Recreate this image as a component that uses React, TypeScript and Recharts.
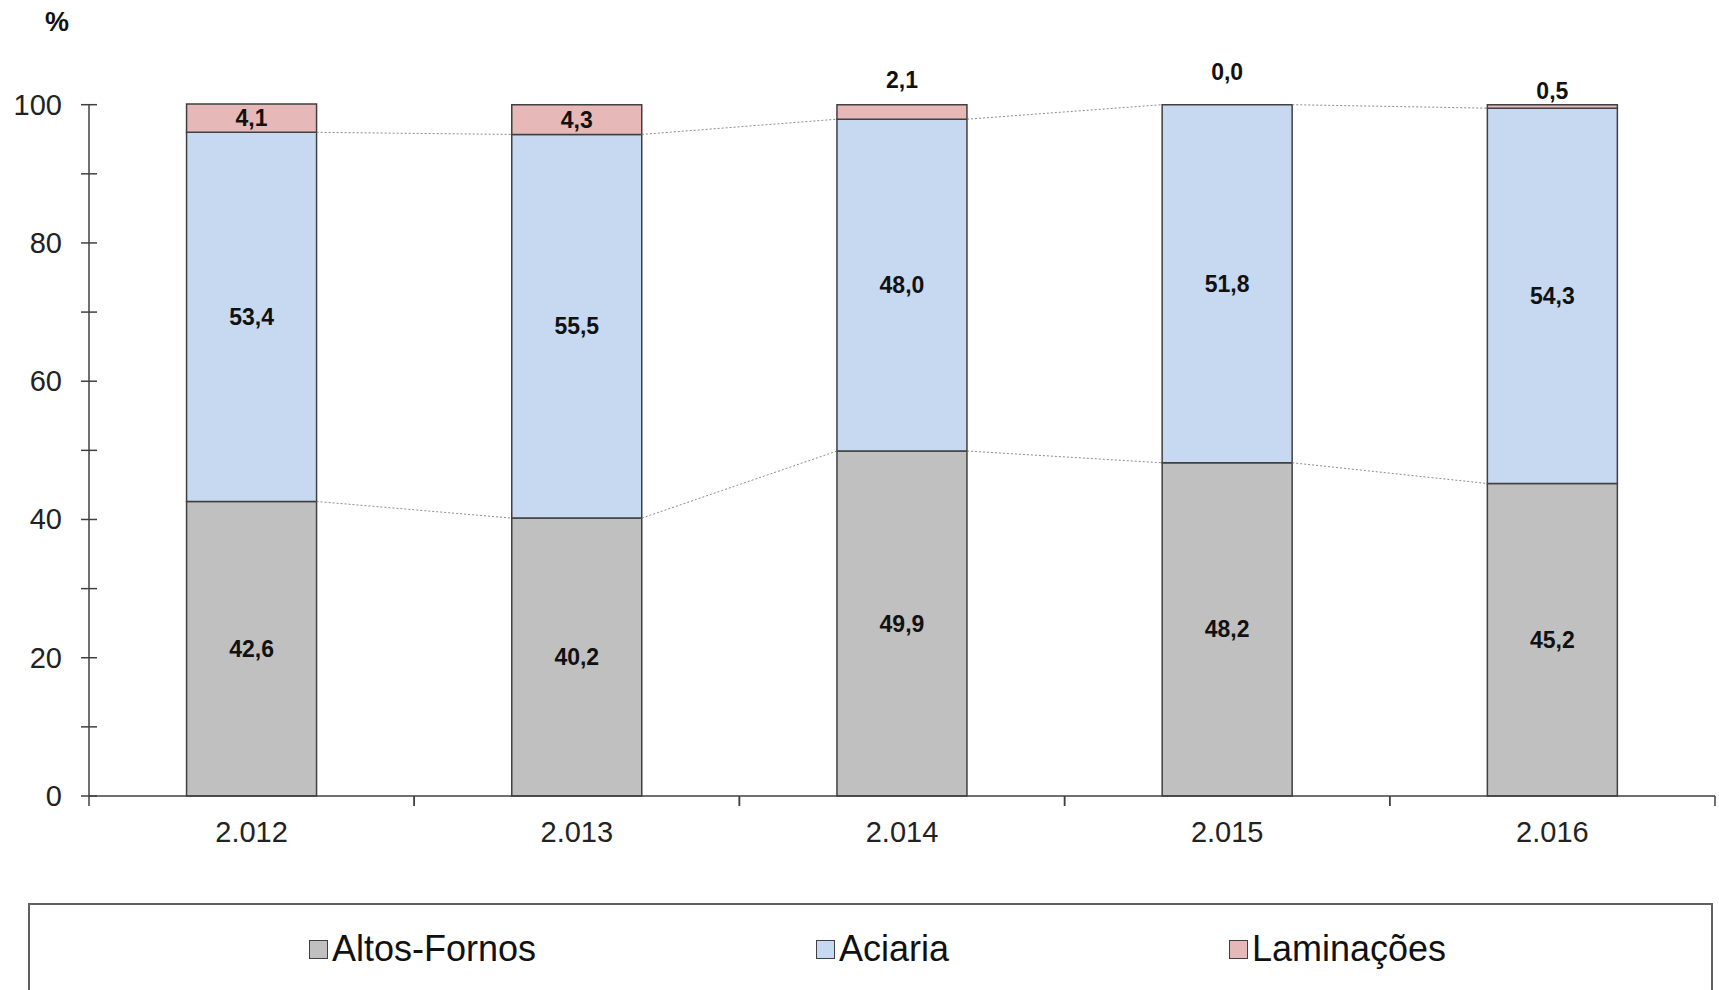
import React from 'react';
import { BarChart, Bar, XAxis, YAxis, ReferenceLine, LabelList } from 'recharts';

// Participação por etapa do processo (%)
const years = ['2.012', '2.013', '2.014', '2.015', '2.016'];
const altosFornos = [42.6, 40.2, 49.9, 48.2, 45.2];
const aciaria = [53.4, 55.5, 48.0, 51.8, 54.3];
const laminacoes = [4.1, 4.3, 2.1, 0.0, 0.5];
const yTicks = [0, 10, 20, 30, 40, 50, 60, 70, 80, 90, 100];
const yLabelEvery = 20;

const seriesNames = ['Altos-Fornos', 'Aciaria', 'Laminações'];
const seriesColors = ['#C0C0C0', '#C6D9F1', '#E6B9B8'];

const data = years.map((year, i) => ({
  year,
  altos: altosFornos[i],
  aciaria: aciaria[i],
  laminacoes: laminacoes[i],
}));

// boundaries between stacked segments, used for the dotted series lines
const altosTop = altosFornos;
const aciariaTop = altosFornos.map((v, i) => v + aciaria[i]);

const W = 1719;
const H = 990;
const PLOT_LEFT = 89;
const PLOT_RIGHT = 1715;
const PLOT_TOP = 104;
const PLOT_BOTTOM = 796;
const Y_AXIS_W = 60;
const X_AXIS_H = 50;
const PLOT_W = PLOT_RIGHT - PLOT_LEFT;
const BAR_GAP = 0.3; // barCategoryGap on each side of a column
const BAR_HALF_PX = (PLOT_W / years.length) * (0.5 - BAR_GAP);

const FONT = '"Liberation Sans", Arial, sans-serif';
const AXIS_COLOR = '#404040';

const fmt = (v: number) => v.toFixed(1).replace('.', ',');

const YTick = (props: any) => {
  const { x, y, payload } = props;
  return (
    <g>
      <line x1={x - 8} x2={x + 8} y1={y} y2={y} stroke={AXIS_COLOR} strokeWidth={1.5} />
      {payload.value % yLabelEvery === 0 && (
        <text x={x - 27} y={y} textAnchor="end" dominantBaseline="central" fontSize={29} fontFamily={FONT} fill="#222">
          {payload.value}
        </text>
      )}
    </g>
  );
};

const XTick = (props: any) => {
  const { x, y, payload } = props;
  const half = PLOT_W / years.length / 2;
  return (
    <g>
      <line x1={x - half} x2={x - half} y1={y} y2={y + 10} stroke={AXIS_COLOR} strokeWidth={1.5} />
      <line x1={x + half} x2={x + half} y1={y} y2={y + 10} stroke={AXIS_COLOR} strokeWidth={1.5} />
      <text x={x} y={y + 36} textAnchor="middle" dominantBaseline="central" fontSize={29} fontFamily={FONT} fill="#222">
        {payload.value}
      </text>
    </g>
  );
};

const labelStyle = {
  textAnchor: 'middle' as const,
  dominantBaseline: 'central' as const,
  fontSize: 23,
  fontWeight: 'bold' as const,
  fontFamily: FONT,
  fill: '#111',
};

const CenterLabel = (props: any) => {
  const { x, y, width, height, value } = props;
  return (
    <text x={x + width / 2} y={y + height / 2} {...labelStyle}>
      {fmt(value)}
    </text>
  );
};

// Laminações labels are anchored on the Aciaria segment (its top is where the
// Laminações segment starts), so zero-height segments still get their label.
// Small shares are written above the column.
const topLift = [0, 0, 25, 33, 14];
const LamLabel = (props: any) => {
  const { x, y, width, height, index } = props;
  const lam = laminacoes[index];
  const pxPerUnit = height / aciaria[index];
  const lamTop = y - lam * pxPerUnit;
  const cy = lam >= 3 ? lamTop + (lam * pxPerUnit) / 2 : lamTop - topLift[index];
  return (
    <text x={x + width / 2} y={cy} {...labelStyle}>
      {fmt(lam)}
    </text>
  );
};

// series line: from the right edge of one column to the left edge of the next
const SeriesLine = (props: any) => {
  const { x1, y1, x2, y2 } = props;
  if ([x1, y1, x2, y2].some((v) => v == null || Number.isNaN(v))) return null;
  return (
    <line
      x1={x1 + BAR_HALF_PX}
      y1={y1}
      x2={x2 - BAR_HALF_PX}
      y2={y2}
      stroke="#8c8c8c"
      strokeWidth={1}
      strokeDasharray="2 2"
    />
  );
};

export default function App() {
  return (
    <div style={{ position: 'absolute', left: 0, top: 0, width: W, height: H, overflow: 'hidden', background: '#fff' }}>
      <div style={{ position: 'absolute', left: 45, top: 7, fontFamily: FONT, fontSize: 27, fontWeight: 'bold', color: '#111' }}>
        %
      </div>
      <BarChart
        width={W}
        height={H}
        data={data}
        barCategoryGap={`${BAR_GAP * 100}%`}
        margin={{
          top: PLOT_TOP,
          right: W - PLOT_RIGHT,
          bottom: H - PLOT_BOTTOM - X_AXIS_H,
          left: PLOT_LEFT - Y_AXIS_W,
        }}
      >
        <XAxis
          dataKey="year"
          height={X_AXIS_H}
          axisLine={{ stroke: AXIS_COLOR, strokeWidth: 1.5 }}
          tickLine={false}
          tickSize={0}
          tickMargin={0}
          tick={<XTick />}
          interval={0}
        />
        <YAxis
          width={Y_AXIS_W}
          domain={[0, 100]}
          ticks={yTicks}
          interval={0}
          axisLine={{ stroke: AXIS_COLOR, strokeWidth: 1.5 }}
          tickLine={false}
          tickSize={0}
          tickMargin={0}
          tick={<YTick />}
        />
        <Bar dataKey="altos" stackId="s" fill={seriesColors[0]} stroke={AXIS_COLOR} strokeWidth={1.5} isAnimationActive={false}>
          <LabelList dataKey="altos" content={<CenterLabel />} />
        </Bar>
        <Bar dataKey="aciaria" stackId="s" fill={seriesColors[1]} stroke={AXIS_COLOR} strokeWidth={1.5} isAnimationActive={false}>
          <LabelList dataKey="aciaria" content={<CenterLabel />} />
          <LabelList dataKey="laminacoes" content={<LamLabel />} />
        </Bar>
        <Bar dataKey="laminacoes" stackId="s" fill={seriesColors[2]} stroke={AXIS_COLOR} strokeWidth={1.5} isAnimationActive={false} />
        {[altosTop, aciariaTop].flatMap((tops, s) =>
          tops.slice(0, -1).map((v, i) => (
            <ReferenceLine
              key={`sl-${s}-${i}`}
              segment={[
                { x: years[i], y: v },
                { x: years[i + 1], y: tops[i + 1] },
              ]}
              ifOverflow="visible"
              shape={<SeriesLine />}
            />
          ))
        )}
      </BarChart>
      <div
        style={{
          position: 'absolute',
          left: 28,
          top: 903,
          width: 1685,
          height: 110,
          boxSizing: 'border-box',
          border: '2px solid #606060',
          background: '#fff',
        }}
      >
        <div
          style={{
            position: 'absolute',
            left: 14,
            right: 0,
            top: 0,
            height: 88,
            display: 'flex',
            justifyContent: 'center',
            alignItems: 'center',
            gap: 280,
            fontFamily: FONT,
            fontSize: 36,
            color: '#111',
          }}
        >
          {seriesNames.map((name, i) => (
            <div key={name} style={{ display: 'flex', alignItems: 'center' }}>
              <span
                style={{
                  display: 'inline-block',
                  width: 17,
                  height: 17,
                  background: seriesColors[i],
                  border: `1.5px solid ${AXIS_COLOR}`,
                  marginRight: 4,
                }}
              />
              <span>{name}</span>
            </div>
          ))}
        </div>
      </div>
    </div>
  );
}
